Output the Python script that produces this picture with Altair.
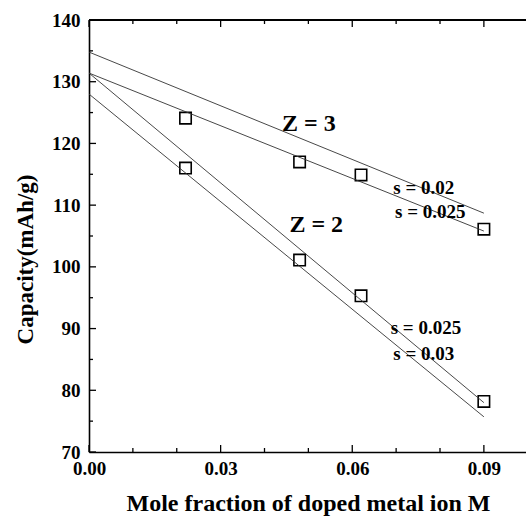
import altair as alt
import pandas as pd

# ---- data ----
x_vals = [0.022, 0.048, 0.062, 0.09]
cap_z3 = [124.1, 117.0, 114.9, 106.1]
cap_z2 = [116.0, 101.1, 95.3, 78.2]

# fitted lines: start (x=0) and end (x=0.09)
line_names = ["Z3 s=0.02", "Z3 s=0.025", "Z2 s=0.025", "Z2 s=0.03"]
line_x0 = [0.0, 0.0, 0.0, 0.0]
line_y0 = [134.8, 131.4, 131.4, 128.0]
line_x1 = [0.09, 0.09, 0.09, 0.09]
line_y1 = [108.7, 105.8, 78.0, 75.7]

big_labels = ["Z = 3", "Z = 2"]
big_x = [0.0501, 0.0518]
big_y = [123.2, 106.8]

small_labels = ["s = 0.02", "s = 0.025", "s = 0.025", "s = 0.03"]
small_x = [0.0763, 0.0778, 0.0768, 0.0763]
small_y = [112.8, 108.9, 90.1, 85.9]

x_major = [0.0, 0.03, 0.06, 0.09]
x_minor = [0.01, 0.02, 0.04, 0.05, 0.07, 0.08]
y_major = [70, 80, 90, 100, 110, 120, 130, 140]
y_minor = [75, 85, 95, 105, 115, 125, 135]

W, H = 437, 432
FONT = "Liberation Serif"

pts = pd.DataFrame({"x": x_vals * 2, "y": cap_z3 + cap_z2})
lines = pd.DataFrame({"name": line_names, "x0": line_x0, "y0": line_y0,
                      "x1": line_x1, "y1": line_y1})
big = pd.DataFrame({"t": big_labels, "x": big_x, "y": big_y})
small = pd.DataFrame({"t": small_labels, "x": small_x, "y": small_y})
xM = pd.DataFrame({"v": x_major})
xm = pd.DataFrame({"v": x_minor})
yM = pd.DataFrame({"v": y_major})
ym = pd.DataFrame({"v": y_minor})

xs = alt.Scale(domain=[0, 0.0996], nice=False, zero=False)
ys = alt.Scale(domain=[70, 140], nice=False, zero=False)

x_axis = alt.Axis(values=x_major, format=".2f", ticks=False, tickSize=0,
                  grid=False, domainColor="black", domainWidth=1.6,
                  labelFlush=False,
                  labelFont=FONT, labelFontWeight="bold", labelFontSize=19,
                  labelColor="black", labelPadding=7, labelBaseline="top",
                  title="Mole fraction of doped metal ion M",
                  titleFont=FONT, titleFontWeight="bold", titleFontSize=24,
                  titleColor="black", titleX=219, titleY=51,
                  titleAlign="center", titleBaseline="middle")
y_axis = alt.Axis(values=y_major, ticks=False, tickSize=0, grid=False,
                  domainColor="black", domainWidth=1.6,
                  labelFlush=False,
                  labelFont=FONT, labelFontWeight="bold", labelFontSize=19,
                  labelColor="black", labelPadding=9,
                  title="Capacity(mAh/g)",
                  titleFont=FONT, titleFontWeight="bold", titleFontSize=23,
                  titleColor="black", titleX=-64, titleY=239, titleAngle=-90,
                  titleAlign="center", titleBaseline="middle")

points = alt.Chart(pts).mark_point(shape="square", filled=False, color="black",
                                   strokeWidth=1.6, size=130, opacity=1).encode(
    x=alt.X("x:Q", scale=xs, axis=x_axis),
    y=alt.Y("y:Q", scale=ys, axis=y_axis),
)

fit = alt.Chart(lines).mark_rule(color="#333333", strokeWidth=0.9).encode(
    x=alt.X("x0:Q", scale=xs, axis=x_axis), x2="x1:Q",
    y=alt.Y("y0:Q", scale=ys, axis=y_axis), y2="y1:Q",
)

big_txt = alt.Chart(big).mark_text(font=FONT, fontWeight="bold", fontSize=24,
                                   color="black", align="center",
                                   baseline="middle").encode(
    x=alt.X("x:Q", scale=xs, axis=x_axis), y=alt.Y("y:Q", scale=ys, axis=y_axis),
    text="t:N")

small_txt = alt.Chart(small).mark_text(font=FONT, fontWeight="bold", fontSize=19,
                                       color="black", align="center",
                                       baseline="middle").encode(
    x=alt.X("x:Q", scale=xs, axis=x_axis), y=alt.Y("y:Q", scale=ys, axis=y_axis),
    text="t:N")

def xticks(df, y0, y1):
    return alt.Chart(df).mark_rule(color="black", strokeWidth=1.3).encode(
        x=alt.X("v:Q", scale=xs, axis=x_axis),
        y=alt.value(y0), y2=alt.value(y1))

def yticks(df, x0, x1):
    return alt.Chart(df).mark_rule(color="black", strokeWidth=1.3).encode(
        y=alt.Y("v:Q", scale=ys, axis=y_axis),
        x=alt.value(x0), x2=alt.value(x1))

top_frame = alt.Chart(xM).mark_rule(color="black", strokeWidth=1.6).encode(
    x=alt.value(0), x2=alt.value(W), y=alt.value(0))

chart = alt.layer(
    points, fit, big_txt, small_txt,
    xticks(xM, H, H - 7), xticks(xm, H, H - 4),
    xticks(xM, 0, 7), xticks(xm, 0, 4),
    yticks(yM, 0, 7), yticks(ym, 0, 4),
    top_frame,
).properties(
    width=W, height=H,
    autosize=alt.AutoSizeParams(type="none"),
    padding={"left": 89, "top": 20, "right": 0, "bottom": 65},
).configure_view(stroke=None).configure(background="white")

chart.save("out.html", embed_options={"renderer": "svg", "actions": False})
